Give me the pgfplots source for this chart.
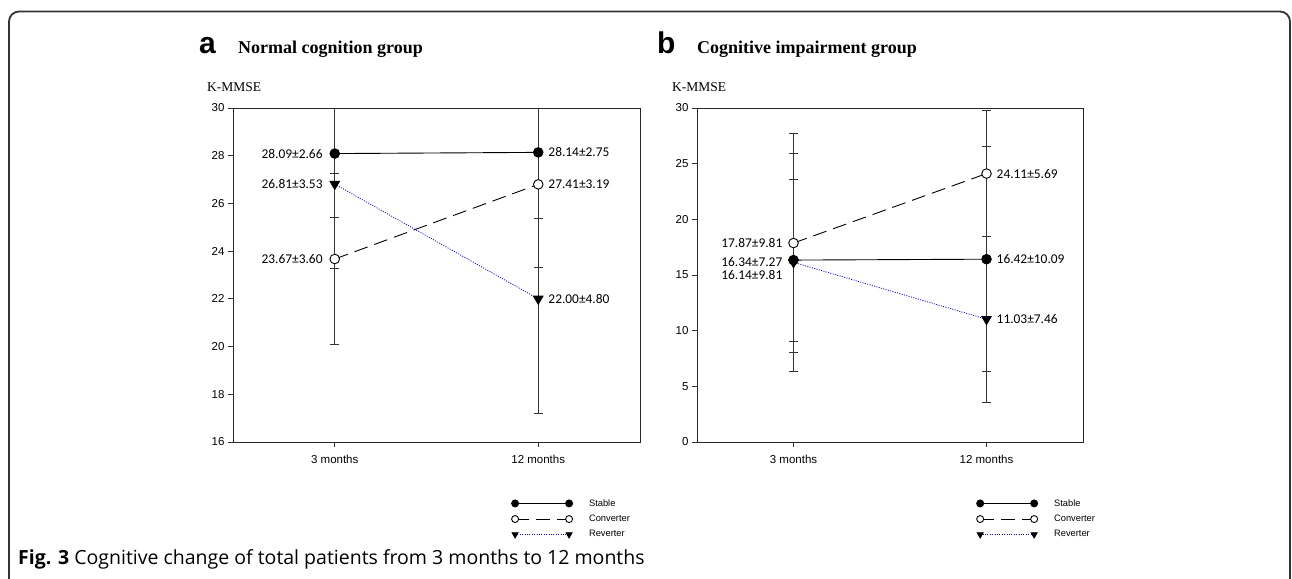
\documentclass[border=0pt]{standalone}
\usepackage{pgfplots}
\pgfplotsset{compat=1.18}
\usepackage{fontspec}
\setmainfont{Liberation Sans}
\newfontfamily\serif{Liberation Serif}
\newfontfamily\cali{Carlito}
\newfontfamily\capfont{Open Sans}

\tikzset{lab/.style={font=\cali\fontsize{13.4}{14}\selectfont, inner sep=0pt}}

\pgfplotsset{
  panel/.style={
    scale only axis, anchor=south west,
    xmin=0.5, xmax=2.5,
    xtick={1,2}, xticklabels={3 months,12 months},
    xtick pos=bottom, ytick pos=left,
    tick align=outside, major tick length=5pt,
    tick style={black!80, line width=0.9pt},
    axis line style={black!85, line width=1pt},
    ticklabel style={font=\fontsize{11.5}{12}\selectfont},
    xticklabel style={yshift=-5pt},
    /pgf/number format/assume math mode=true,
    legend cell align=left,
    legend style={draw=none, fill=none, inner sep=0pt, row sep=3.5pt,
      font=\fontsize{9.3}{10}\selectfont},
    legend image code/.code={
      \path[draw=none, fill=none, mark=none] (0pt,0pt) -- (72pt,0pt);
      \draw[##1, mark size=3.5pt] plot coordinates {(0pt,0pt) (54pt,0pt)};},
  },
  ebar/.style={error bars/.cd, y dir=both, y explicit,
    error bar style={line width=0.9pt, black!80, solid},
    error mark options={rotate=90, mark size=4.5pt, line width=0.9pt, black!80}},
  stable/.style={black, line width=0.9pt, mark=*, mark size=4.8pt,
    mark options={solid, fill=black}},
  convert/.style={black, line width=0.9pt, dash pattern=on 14pt off 7pt,
    mark=*, mark size=4.8pt, mark options={solid, fill=white, draw=black}},
  revert/.style={blue, line width=0.8pt, dash pattern=on 1pt off 1.4pt,
    mark=triangle*, mark size=5.5pt,
    mark options={solid, fill=black, draw=black, rotate=180}},
}

\begin{document}
\begin{tikzpicture}[x=1pt,y=1pt]
\path[use as bounding box] (0,0) rectangle (1292,-578);
\draw[line width=1.8pt, black!80, rounded corners=10pt]
  (9,-580) -- (9,-11.5) -- (1290,-11.5) -- (1290,-580);

% panel a
\node[anchor=base west, inner sep=0, font=\fontsize{30}{30}\selectfont\bfseries] at (199,-54) {a};
\node[anchor=base west, inner sep=0, font=\serif\bfseries\fontsize{18}{18}\selectfont] at (238,-54) {Normal cognition group};
\node[anchor=base west, inner sep=0, font=\serif\fontsize{13.5}{14}\selectfont] at (207,-92) {K-MMSE};

\begin{axis}[panel, at={(233pt,-442pt)}, width=407pt, height=334pt,
  ymin=16, ymax=30, ytick={16,18,...,30},
  legend style={at={(axis description cs:0.684,-0.165)}, anchor=north west}]
\addplot[stable, ebar] coordinates {(1,28.09) +- (0,2.66) (2,28.14) +- (0,2.75)};
\addplot[convert, ebar] coordinates {(1,23.67) +- (0,3.60) (2,26.80) +- (0,3.50)};
\addplot[revert, ebar] coordinates {(1,26.81) +- (0,3.53) (2,22.00) +- (0,4.80)};
\legend{Stable, Converter, Reverter}
\node[lab, anchor=east] at (axis cs:1,28.09) [xshift=-12pt] {28.09±2.66};
\node[lab, anchor=east] at (axis cs:1,26.81) [xshift=-12pt] {26.81±3.53};
\node[lab, anchor=east] at (axis cs:1,23.67) [xshift=-12pt] {23.67±3.60};
\node[lab, anchor=west] at (axis cs:2,28.14) [xshift=10pt] {28.14±2.75};
\node[lab, anchor=west] at (axis cs:2,26.80) [xshift=10pt] {27.41±3.19};
\node[lab, anchor=west] at (axis cs:2,22.00) [xshift=10pt] {22.00±4.80};
\end{axis}

% panel b
\node[anchor=base west, inner sep=0, font=\fontsize{30}{30}\selectfont\bfseries] at (657,-54) {b};
\node[anchor=base west, inner sep=0, font=\serif\bfseries\fontsize{18}{18}\selectfont] at (697,-54) {Cognitive impairment group};
\node[anchor=base west, inner sep=0, font=\serif\fontsize{13.5}{14}\selectfont] at (672,-92) {K-MMSE};

\begin{axis}[panel, at={(697pt,-442pt)}, width=386pt, height=334pt,
  ymin=0, ymax=30, ytick={0,5,...,30},
  legend style={at={(axis description cs:0.724,-0.165)}, anchor=north west}]
\addplot[stable, ebar] coordinates {(1,16.34) +- (0,7.27) (2,16.42) +- (0,10.09)};
\addplot[convert, ebar] coordinates {(1,17.87) +- (0,9.81) (2,24.11) +- (0,5.69)};
\addplot[revert, ebar] coordinates {(1,16.14) +- (0,9.81) (2,11.03) +- (0,7.46)};
\legend{Stable, Converter, Reverter}
\node[lab, anchor=east] at (axis cs:1,17.87) [xshift=-11pt] {17.87±9.81};
\node[lab, anchor=east] at (axis cs:1,16.20) [xshift=-11pt] {16.34±7.27};
\node[lab, anchor=east] at (axis cs:1,16.20) [xshift=-11pt, yshift=-13pt] {16.14±9.81};
\node[lab, anchor=west] at (axis cs:2,24.11) [xshift=10pt] {24.11±5.69};
\node[lab, anchor=west] at (axis cs:2,16.42) [xshift=10pt] {16.42±10.09};
\node[lab, anchor=west] at (axis cs:2,11.03) [xshift=10pt] {11.03±7.46};
\end{axis}

\node[anchor=base west, inner sep=0, font=\capfont\fontsize{19.5}{19.5}\selectfont] at (18,-564)
  {\textbf{Fig. 3} Cognitive change of total patients from 3 months to 12 months};
\end{tikzpicture}
\end{document}
